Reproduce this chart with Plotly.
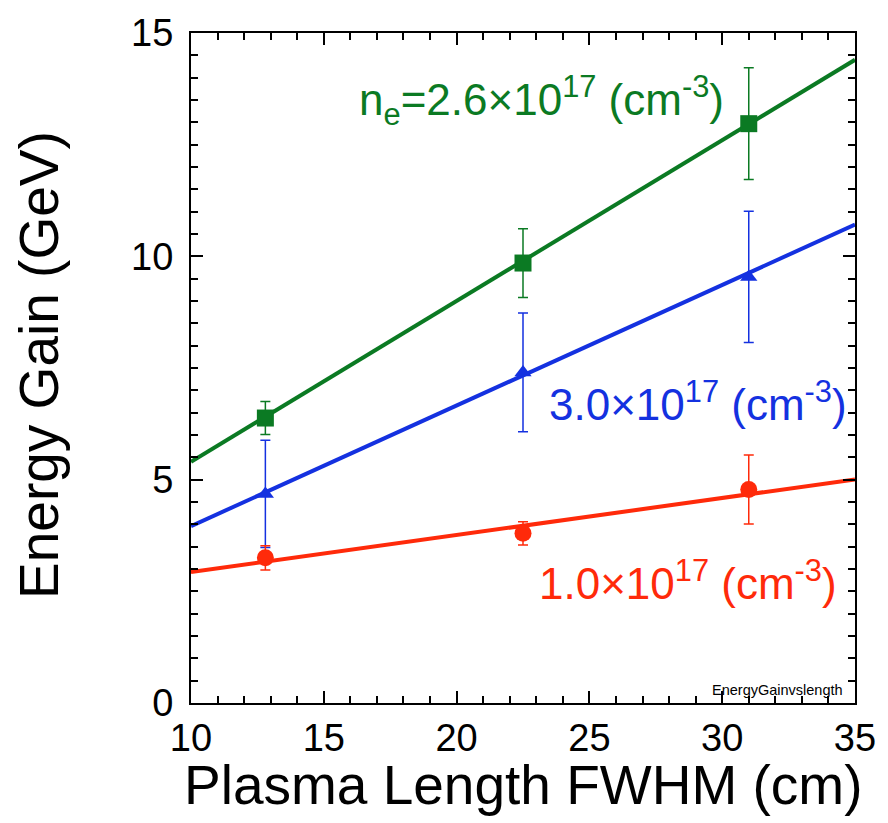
import plotly.graph_objects as go

# Plasma length FWHM (cm) for each measurement
length_cm = [12.8, 22.5, 31.0]

# Energy gain (GeV) and uncertainties per plasma density
gain_26 = [6.38, 9.85, 12.97]
err_26 = [0.37, 0.77, 1.25]
gain_30 = [4.68, 7.40, 9.54]
err_30 = [1.20, 1.33, 1.47]
gain_10 = [3.25, 3.80, 4.78]
err_10 = [0.27, 0.26, 0.77]

# Linear fits: gain = a + b * length
fit_x = [10, 35]
fit_26 = (1.80, 0.360)
fit_30 = (1.26, 0.270)
fit_10 = (2.10, 0.083)

x_ticks = [10, 15, 20, 25, 30, 35]
y_ticks = [0, 5, 10, 15]

GREEN = "#0b7a23"
BLUE = "#1431e0"
RED = "#ff2a0a"
FONT = "Liberation Sans, Arial, sans-serif"

fig = go.Figure()

def add_series(gain, err, fit, color, symbol, size):
    a, b = fit
    fig.add_trace(go.Scatter(
        x=fit_x, y=[a + b * v for v in fit_x], mode="lines",
        line=dict(color=color, width=4), showlegend=False, hoverinfo="skip"))
    fig.add_trace(go.Scatter(
        x=length_cm, y=gain, mode="markers",
        marker=dict(color=color, symbol=symbol, size=size),
        error_y=dict(type="data", array=err, color=color, thickness=1.5, width=5),
        showlegend=False))

add_series(gain_26, err_26, fit_26, GREEN, "square", 17)
add_series(gain_30, err_30, fit_30, BLUE, "triangle-up", 15)
add_series(gain_10, err_10, fit_10, RED, "circle", 17)

# empty trace so the mirrored top/right axes get drawn
fig.add_trace(go.Scatter(x=[None], y=[None], xaxis="x2", yaxis="y2",
                         showlegend=False, hoverinfo="skip"))

labels = [
    (23.2, 13.5, "n<sub>e</sub>=2.6×10<sup>17</sup> (cm<sup>-3</sup>)", GREEN),
    (29.1, 6.75, "3.0×10<sup>17</sup> (cm<sup>-3</sup>)", BLUE),
    (28.7, 2.75, "1.0×10<sup>17</sup> (cm<sup>-3</sup>)", RED),
]
for x, y, t, c in labels:
    fig.add_annotation(x=x, y=y, text=t, showarrow=False,
                       font=dict(family=FONT, size=44, color=c))

fig.add_annotation(x=0.985, y=0.005, xref="paper", yref="paper",
                   xanchor="right", yanchor="bottom", text="EnergyGainvslength",
                   showarrow=False, font=dict(family=FONT, size=14.5, color="black"))

# axis titles
fig.add_annotation(x=0.5, y=-0.123, xref="paper", yref="paper",
                   xanchor="center", yanchor="middle", showarrow=False,
                   text="Plasma Length FWHM (cm)",
                   font=dict(family=FONT, size=55, color="black"))
fig.add_annotation(x=-0.23, y=0.505, xref="paper", yref="paper",
                   xanchor="center", yanchor="middle", showarrow=False,
                   textangle=-90, text="Energy Gain (GeV)",
                   font=dict(family=FONT, size=55, color="black"))

tick_style = dict(
    showgrid=False, zeroline=False, showline=True, linecolor="black", linewidth=2,
    ticks="inside", ticklen=12, tickwidth=2, tickcolor="black",
)
minor_x = dict(dtick=1, ticks="inside", ticklen=7, tickwidth=1.5, tickcolor="black")
minor_y = dict(dtick=0.5, ticks="inside", ticklen=7, tickwidth=1.5, tickcolor="black")

fig.update_layout(
    width=888, height=823,
    margin=dict(l=191, r=26, t=33, b=120),
    plot_bgcolor="white", paper_bgcolor="white",
    xaxis=dict(
        range=[10, 35], tickvals=x_ticks, minor=minor_x,
        tickfont=dict(family=FONT, size=38, color="black"),
        **tick_style),
    yaxis=dict(
        range=[0, 15], tickvals=y_ticks, minor=minor_y,
        tickfont=dict(family=FONT, size=38, color="black"), ticklabelstandoff=8,
        **tick_style),
    # mirrored frame with tick marks on the top and right sides
    xaxis2=dict(range=[10, 35], tickvals=x_ticks, minor=minor_x, overlaying="x",
                side="top", showticklabels=False, **tick_style),
    yaxis2=dict(range=[0, 15], tickvals=y_ticks, minor=minor_y, overlaying="y",
                side="right", showticklabels=False, **tick_style),
)

fig.write_html("out.html")
